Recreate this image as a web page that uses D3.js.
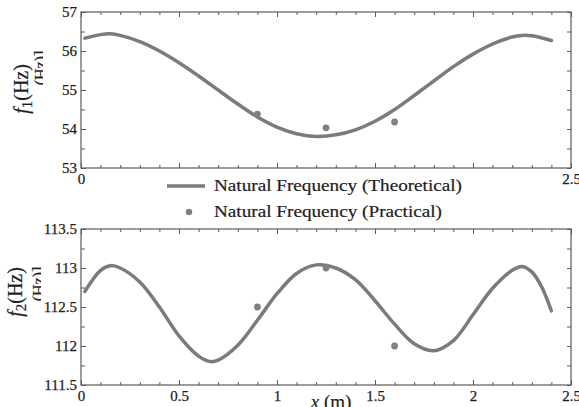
<!DOCTYPE html>
<html>
<head>
<meta charset="utf-8">
<script src="https://cdn.jsdelivr.net/npm/d3@7"></script>
<style>
  body { margin: 0; background: #fff; }
  svg { display: block; }
  text { font-family: "Liberation Serif", "Times New Roman", serif; fill: #1e1e1e; }
</style>
</head>
<body>
<div id="chart"></div>
<script>
// Theoretical curves
var xTheory1 = [0.02, 0.1, 0.15, 0.2, 0.3, 0.4, 0.5, 0.6, 0.7, 0.8, 0.9, 1.0, 1.1, 1.2,
                1.3, 1.4, 1.5, 1.6, 1.7, 1.8, 1.9, 2.0, 2.1, 2.2, 2.25, 2.3, 2.4];
var f1Theory = [56.33, 56.42, 56.44, 56.40, 56.24, 56.00, 55.70, 55.36, 55.00, 54.64, 54.31, 54.05, 53.88, 53.81,
                53.85, 53.98, 54.20, 54.50, 54.86, 55.23, 55.60, 55.92, 56.18, 56.36, 56.40, 56.39, 56.27];

var xTheory2 = [0.02, 0.1, 0.15, 0.2, 0.3, 0.4, 0.5, 0.6, 0.66, 0.7, 0.8, 0.9, 1.0, 1.1, 1.2,
                1.3, 1.4, 1.5, 1.6, 1.7, 1.8, 1.9, 2.0, 2.1, 2.2, 2.25, 2.3, 2.35, 2.4];
var f2Theory = [112.70, 112.97, 113.03, 113.00, 112.82, 112.50, 112.13, 111.87, 111.80, 111.82, 112.01, 112.33, 112.67, 112.93, 113.04,
                113.00, 112.85, 112.58, 112.28, 112.03, 111.94, 112.07, 112.40, 112.74, 112.97, 113.02, 112.95, 112.76, 112.45];

// Measured points
var xPractical = [0.9, 1.25, 1.6];
var f1Practical = [54.38, 54.03, 54.18];
var f2Practical = [112.5, 113.0, 112.0];

// Tick values
var xMajor = [0, 0.5, 1, 1.5, 2, 2.5];
var xMajorTop = [0, 2.5];   // the legend hides the others
var xMinor = [0, 0.1, 0.2, 0.3, 0.4, 0.5, 0.6, 0.7, 0.8, 0.9, 1.0, 1.1, 1.2,
              1.3, 1.4, 1.5, 1.6, 1.7, 1.8, 1.9, 2.0, 2.1, 2.2, 2.3, 2.4, 2.5];
var y1Major = [53, 54, 55, 56, 57];
var y1Minor = [53, 53.5, 54, 54.5, 55, 55.5, 56, 56.5, 57];
var y2Major = [111.5, 112, 112.5, 113, 113.5];
var y2Minor = [111.5, 111.75, 112, 112.25, 112.5, 112.75, 113, 113.25, 113.5];

var legendLabels = ["Natural Frequency (Theoretical)", "Natural Frequency (Practical)"];
var legendWidths = [248, 228];

var lineColor = "#7b7b7b",
    frameColor = "#5a5a5a";

var svg = d3.select("#chart").append("svg")
  .attr("width", 579)
  .attr("height", 407);

var x = d3.scaleLinear().domain([0, 2.5]).range([81, 571]);

function draw_panel(cfg) {
  var y = d3.scaleLinear().domain(cfg.domain).range([cfg.bottom, cfg.top]);
  var g = svg.append("g");

  // ticks on all four sides, pointing inward
  function ticks(axis, transform) {
    var a = g.append("g").attr("transform", transform).call(axis);
    a.select(".domain").remove();
    a.selectAll("line").attr("stroke", frameColor);
    a.selectAll("text")
      .attr("font-size", 15)
      .attr("fill", "#1e1e1e")
      .attr("stroke", "#1e1e1e").attr("stroke-width", 0.25)
      .style("font-family", '"Liberation Serif", serif');
    return a;
  }
  ticks(d3.axisBottom(x).tickValues(xMinor).tickSize(-3).tickFormat(""), "translate(0," + cfg.bottom + ")");
  ticks(d3.axisTop(x).tickValues(xMinor).tickSize(-3).tickFormat(""), "translate(0," + cfg.top + ")");
  ticks(d3.axisTop(x).tickValues(xMajor).tickSize(-5).tickFormat(""), "translate(0," + cfg.top + ")");
  ticks(d3.axisBottom(x).tickValues(xMajor).tickSize(-5).tickFormat(""), "translate(0," + cfg.bottom + ")");
  ticks(d3.axisRight(y).tickValues(cfg.yMinor).tickSize(-4).tickFormat(""), "translate(571,0)");
  ticks(d3.axisLeft(y).tickValues(cfg.yMinor).tickSize(-4).tickFormat(""), "translate(81,0)");

  // labelled ticks
  ticks(d3.axisBottom(x).tickValues(cfg.xLabels).tickSize(0).tickPadding(5).tickFormat(d3.format("")),
    "translate(0," + cfg.bottom + ")");
  ticks(d3.axisLeft(y).tickValues(cfg.yMajor).tickSize(-5).tickPadding(4).tickFormat(d3.format("")),
    "translate(81,0)");

  // frame
  g.append("rect")
    .attr("x", 81).attr("y", cfg.top)
    .attr("width", 490).attr("height", cfg.bottom - cfg.top)
    .attr("fill", "none").attr("stroke", frameColor).attr("stroke-width", 1.2);

  // theoretical line
  var line = d3.line()
    .x(function(d, i) { return x(cfg.xs[i]); })
    .y(function(d) { return y(d); })
    .curve(d3.curveCatmullRom.alpha(0.5));
  g.append("path")
    .attr("d", line(cfg.values))
    .attr("fill", "none")
    .attr("stroke", lineColor)
    .attr("stroke-width", 3.5)
    .attr("stroke-linecap", "round");

  // practical points
  g.selectAll("circle.pt")
    .data(cfg.points)
    .enter()
    .append("circle")
      .attr("class", "pt")
      .attr("cx", function(d, i) { return x(xPractical[i]); })
      .attr("cy", function(d) { return y(d); })
      .attr("r", 3.4)
      .attr("fill", "#808080");

  // y label: f_n(Hz)
  var lab = g.append("text")
    .attr("transform", "translate(" + cfg.labelX + "," + cfg.labelY + ") rotate(-90)")
    .attr("text-anchor", "middle")
    .attr("font-size", 20)
    .attr("stroke", "#1e1e1e").attr("stroke-width", 0.2);
  lab.append("tspan").attr("font-style", "italic").text("f");
  lab.append("tspan").attr("font-size", 15).attr("dy", 4).text(cfg.sub);
  lab.append("tspan").attr("dy", -4).text("(Hz)");

  // leftover duplicate of the unit label, its lower half cut away
  g.append("clipPath").attr("id", "clip" + cfg.sub)
    .append("rect")
      .attr("x", cfg.ghostX - 16).attr("y", cfg.ghostY - 30)
      .attr("width", 13).attr("height", 60);
  g.append("g")
    .attr("clip-path", "url(#clip" + cfg.sub + ")")
    .append("text")
      .attr("transform", "translate(" + cfg.ghostX + "," + cfg.ghostY + ") rotate(-90)")
      .attr("text-anchor", "middle")
      .attr("font-size", 16)
      .attr("stroke", "#1e1e1e").attr("stroke-width", 0.2)
      .text("(Hz)]");
}

draw_panel({top: 12, bottom: 168, domain: [53, 57], yMajor: y1Major, yMinor: y1Minor, xLabels: xMajorTop,
            xs: xTheory1, values: f1Theory, points: f1Practical, sub: "1",
            labelX: 28, labelY: 89, ghostX: 46, ghostY: 68});
draw_panel({top: 229, bottom: 385, domain: [111.5, 113.5], yMajor: y2Major, yMinor: y2Minor, xLabels: xMajor,
            xs: xTheory2, values: f2Theory, points: f2Practical, sub: "2",
            labelX: 22, labelY: 292, ghostX: 44, ghostY: 284});

// legend, drawn over the gap between the panels
var leg = svg.append("g");
leg.append("line")
  .attr("x1", 167).attr("x2", 205)
  .attr("y1", 186).attr("y2", 186)
  .attr("stroke", lineColor).attr("stroke-width", 3.5);
leg.append("circle")
  .attr("cx", 189).attr("cy", 212).attr("r", 3.2)
  .attr("fill", "#808080");
leg.selectAll("text.leg")
  .data(legendLabels)
  .enter()
  .append("text")
    .attr("class", "leg")
    .attr("x", 214)
    .attr("y", function(d, i) { return 191 + i * 26; })
    .attr("font-size", 16)
    .attr("textLength", function(d, i) { return legendWidths[i]; })
    .attr("lengthAdjust", "spacingAndGlyphs")
    .attr("stroke", "#1e1e1e").attr("stroke-width", 0.2)
    .text(function(d) { return d; });

// x axis title, cut by the bottom edge
var xt = svg.append("text")
  .attr("x", 331).attr("y", 408)
  .attr("text-anchor", "middle")
  .attr("font-size", 19)
  .attr("stroke", "#1e1e1e").attr("stroke-width", 0.2);
xt.append("tspan").attr("font-style", "italic").text("x");
xt.append("tspan").text(" (m)");
</script>
</body>
</html>
